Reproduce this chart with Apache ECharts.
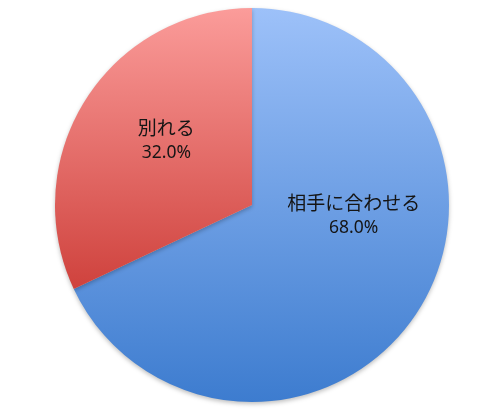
<!DOCTYPE html>
<html>
<head>
<meta charset="utf-8">
<script src="https://cdn.jsdelivr.net/npm/echarts@6/dist/echarts.min.js"></script>
<style>html,body{margin:0;padding:0;background:#fff;}#c{width:500px;height:417px;}</style>
</head>
<body>
<div id="c"></div>
<script>
const categories = ['相手に合わせる', '別れる'];
const values = [68.0, 32.0];
const topColors = ['#9dc1f9', '#fb9c9a'];
const bottomColors = ['#3d7ccf', '#cf423d'];
const labelOffsets = [[16, -44], [0, -10]];

const chart = echarts.init(document.getElementById('c'), null, {renderer: 'canvas'});
const data = categories.map((name, i) => ({
  name: name,
  value: values[i],
  itemStyle: {
    color: {
      type: 'linear', x: 0, y: 0, x2: 0, y2: 1,
      colorStops: [{offset: 0, color: topColors[i]}, {offset: 1, color: bottomColors[i]}]
    }
  },
  label: {offset: labelOffsets[i]}
}));
chart.setOption({
  animation: false,
  series: [{
    type: 'pie',
    center: [252, 205],
    radius: 197,
    startAngle: 90,
    clockwise: true,
    data: data,
    itemStyle: {
      borderWidth: 0,
      shadowColor: 'rgba(0,0,0,0.25)',
      shadowBlur: 4,
      shadowOffsetY: 2
    },
    label: {
      show: true,
      position: 'inside',
      formatter: p => '{n|' + p.name + '}\n{v|' + p.value.toFixed(1) + '%}',
      color: '#151515',
      rich: {
        n: {fontSize: 19, lineHeight: 25, color: '#151515', fontFamily: '"Noto Sans CJK JP", sans-serif'},
        v: {fontSize: 17.5, lineHeight: 25, color: '#151515', fontFamily: '"Noto Sans", "Noto Sans CJK JP", sans-serif'}
      }
    },
    labelLine: {show: false},
    emphasis: {disabled: true}
  }]
});
</script>
</body>
</html>
